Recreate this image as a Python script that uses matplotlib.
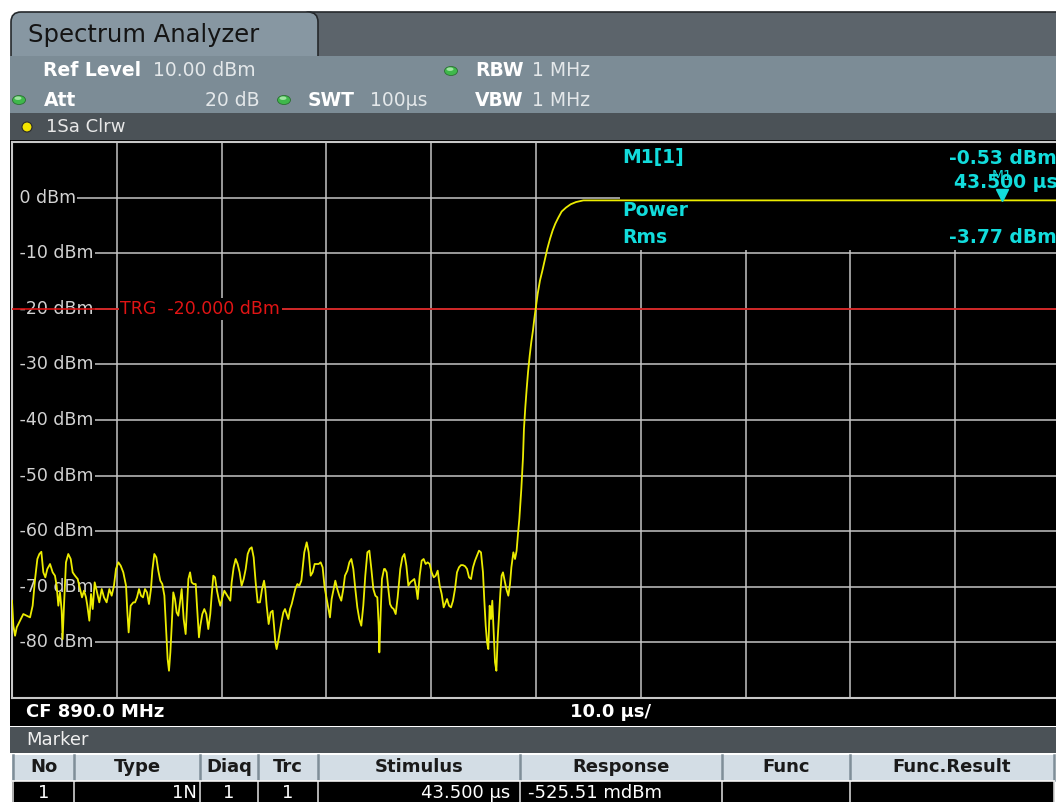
import numpy as np
import matplotlib
matplotlib.use('Agg')
import matplotlib.pyplot as plt
from matplotlib.patches import Rectangle, FancyBboxPatch, Ellipse, Circle
from matplotlib import transforms

plt.rcParams['font.family'] = ['DejaVu Sans']

# ---- values ----
# zero span trace: time in µs, level in dBm
trace_t = [
    -51.00, -50.87, -50.71, -50.55, -50.24, -49.92, -49.60, -49.28, -49.03, -48.80,
    -48.58, -48.39, -48.20, -48.01, -47.82, -47.63, -47.37, -47.12, -46.90, -46.74,
    -46.58, -46.42, -46.26, -46.17, -46.04, -45.85, -45.63, -45.40, -45.21, -44.99,
    -44.73, -44.51, -44.32, -44.13, -43.94, -43.81, -43.62, -43.46, -43.30, -43.11,
    -42.92, -42.67, -42.44, -42.22, -41.97, -41.71, -41.49, -41.27, -41.08, -40.85,
    -40.63, -40.38, -40.12, -40.00, -39.87, -39.68, -39.42,
    -39.26, -39.07, -38.88, -38.69, -38.50, -38.31, -38.12, -37.93, -37.74, -37.61,
    -37.42, -37.23, -37.04, -36.85, -36.66, -36.46, -36.30, -36.15, -36.02, -35.89,
    -35.76, -35.61, -35.45, -35.29, -35.13, -34.97, -34.81, -34.62, -34.43, -34.30,
    -34.17, -34.01, -33.86, -33.67, -33.47, -33.35, -33.16, -33.03, -32.84, -32.65,
    -32.46, -32.27, -32.08, -31.95, -31.79, -31.63, -31.44, -31.25, -31.12, -30.93,
    -30.74, -30.55, -30.36, -30.17, -30.04, -29.85, -29.66, -29.47, -29.28, -29.09,
    -28.89, -28.70, -28.51, -28.32, -28.13, -27.94, -27.75, -27.56,
    -27.34, -27.14, -26.95, -26.83, -26.70, -26.51, -26.32, -26.13, -26.00, -25.87,
    -25.75, -25.59, -25.43, -25.27, -25.11, -24.95, -24.79, -24.63, -24.47, -24.31,
    -24.16, -23.97, -23.77, -23.58, -23.39, -23.26, -23.11, -22.88, -22.69, -22.50,
    -22.31, -22.12, -21.93, -21.74, -21.55, -21.36, -21.17, -20.97, -20.82, -20.66,
    -20.50, -20.34, -20.15, -19.96, -19.77, -19.58, -19.39, -19.23, -19.00, -18.81,
    -18.62, -18.43, -18.24, -18.05, -17.86, -17.67, -17.48, -17.29, -17.09, -16.90,
    -16.71, -16.52, -16.33, -16.14, -16.01, -15.95, -15.82, -15.70, -15.50,
    -15.41, -15.25, -15.09, -14.93, -14.77, -14.58, -14.39, -14.20, -14.07, -13.95,
    -13.75, -13.56, -13.37, -13.18, -12.99, -12.80, -12.61, -12.42, -12.29, -12.10,
    -11.91, -11.72, -11.53, -11.34, -11.15, -10.96, -10.76, -10.57, -10.38, -10.19,
    -10.00, -9.81, -9.68, -9.49, -9.30, -9.11, -8.92, -8.73, -8.54, -8.35,
    -8.16, -7.97, -7.77, -7.58, -7.39, -7.20, -7.01, -6.82, -6.63, -6.44,
    -6.25, -6.06, -5.93, -5.80, -5.67, -5.55, -5.42, -5.29, -5.17, -5.04,
    -4.91, -4.78, -4.66, -4.53, -4.40, -4.28, -4.15, -4.02, -3.83, -3.64,
    -3.48, -3.35, -3.16, -3.00, -2.85, -2.72, -2.59, -2.40, -2.24, -2.15,
    -2.02, -1.89, -1.76, -1.60, -1.45, -1.29, -1.16, -1.00, -0.84, -0.62,
    -0.40, -0.14, 0.08, 0.34, 0.59, 0.84, 1.13, 1.45, 1.86, 2.31,
    2.82, 3.52, 49.00,
]
trace_dbm = [
    -72.5, -77.0, -78.8, -77.3, -76.1, -74.9, -75.2, -75.5, -73.4, -68.6,
    -65.0, -64.1, -63.7, -67.4, -68.3, -66.8, -65.9, -67.4, -68.0, -69.8,
    -73.4, -71.0, -74.3, -79.4, -73.4, -65.6, -64.1, -65.0, -67.4, -68.0,
    -68.6, -70.4, -71.9, -70.7, -71.9, -73.4, -76.1, -71.3, -74.0, -69.2,
    -70.7, -72.8, -70.4, -71.9, -72.8, -70.4, -71.6, -69.8, -66.8, -65.6,
    -66.2, -67.4, -69.8, -74.3, -78.2, -73.4, -72.8,
    -72.8, -71.9, -70.4, -71.6, -71.9, -70.4, -71.0, -73.1, -70.4, -67.1,
    -64.1, -64.7, -67.1, -68.9, -69.5, -71.6, -77.3, -83.0, -85.1, -81.8,
    -77.0, -71.0, -72.2, -74.6, -75.2, -72.8, -70.4, -75.8, -78.5, -73.4,
    -68.6, -67.4, -69.2, -69.5, -69.5, -73.4, -79.1, -77.0, -74.9, -74.0,
    -74.9, -77.6, -74.9, -71.6, -68.0, -68.3, -70.7, -72.5, -73.4, -71.9,
    -70.7, -71.3, -71.9, -72.5, -69.2, -66.5, -65.0, -65.9, -67.4, -69.8,
    -68.6, -66.8, -64.1, -63.2, -62.9, -64.7, -69.2, -72.8,
    -72.8, -70.4, -68.9, -70.4, -73.4, -76.7, -74.6, -74.3, -77.0, -80.0,
    -81.2, -79.7, -77.9, -76.1, -74.6, -74.0, -74.9, -75.8, -74.0, -73.1,
    -71.9, -70.4, -69.5, -69.8, -68.9, -66.5, -63.8, -62.0, -63.8, -68.0,
    -67.4, -65.9, -65.9, -65.9, -65.6, -66.5, -70.1, -72.2, -73.7, -75.5,
    -72.2, -70.7, -68.9, -70.4, -71.6, -72.5, -70.4, -68.0, -67.1, -65.6,
    -65.0, -66.8, -70.4, -73.7, -75.8, -77.0, -73.4, -68.0, -63.8, -63.5,
    -66.8, -70.4, -71.6, -71.9, -77.0, -81.8, -74.6, -68.6, -66.8,
    -66.8, -67.4, -70.4, -73.1, -73.7, -74.0, -74.9, -71.9, -69.2, -66.8,
    -64.7, -64.1, -66.2, -69.8, -69.2, -68.9, -68.6, -70.4, -72.2, -68.0,
    -65.3, -65.0, -65.9, -65.6, -65.9, -67.4, -68.3, -68.0, -67.1, -69.8,
    -71.3, -73.7, -73.1, -72.2, -73.4, -73.7, -72.5, -70.4, -67.4, -66.5,
    -66.1, -66.1, -66.3, -66.8, -68.3, -68.6, -66.5, -65.3, -64.4, -63.5,
    -63.8, -67.4, -72.5, -77.0, -80.0, -81.2, -73.4, -75.8, -72.5, -78.2,
    -83.6, -85.1, -79.4, -75.2, -71.0, -68.0, -67.4, -68.6, -70.4, -71.6,
    -69.5, -66.5, -63.8, -65.0, -63.5, -60.5, -57.8, -52.4, -46.7, -41.6,
    -37.7, -34.4, -31.4, -28.4, -26.0, -23.9, -21.8, -19.5, -17.3, -14.9,
    -13.2, -11.0, -9.2, -7.4, -5.9, -4.7, -3.6, -2.5, -1.8, -1.2,
    -0.8, -0.5, -0.5,
]

ref_level = 10.0          # dBm, top of the screen
range_db = 100.0          # 10 dB / div
t_start, t_stop = -51.0, 49.0   # µs, 10 µs / div
trg_level = -20.0
marker_t = 43.5
marker_dbm = -0.53
level_ticks = [0, -10, -20, -30, -40, -50, -60, -70, -80]

table_head = ['No', 'Type', 'Diaq', 'Trc', 'Stimulus', 'Response', 'Func', 'Func.Result']
table_row = ['1', '1N', '1', '1', '43.500 µs', '-525.51 mdBm', '', '']

# ---- layout (screen pixels) ----
W, H = 1056, 802
col_edges = [13, 74, 200, 258, 318, 520, 722, 850, 1054]
CYAN = '#12dcdc'
VAL = '#e4e8ea'

fig = plt.figure(figsize=(W / 100, H / 100), dpi=100)
fig.patch.set_facecolor('white')

bg = fig.add_axes([0, 0, 1, 1], zorder=0)
bg.set_xlim(0, W)
bg.set_ylim(H, 0)
bg.axis('off')


def rect(x0, y0, x1, y1, fc, z=1):
    bg.add_patch(Rectangle((x0, y0), x1 - x0, y1 - y0, fc=fc, ec='none', zorder=z))


def txt(x, y, s, **kw):
    kw.setdefault('va', 'center')
    kw.setdefault('fontsize', 12.5)
    kw.setdefault('color', 'white')
    fig.text(x / W, 1 - y / H, s, **kw)


def green_dot(x, y):
    bg.add_patch(Ellipse((x, y), 13, 9, fc='#3fb84b', ec='#2b6f33', lw=0.6, zorder=3))
    bg.add_patch(Ellipse((x - 1, y - 1.8), 7, 3.5, fc='#9ee3a0', ec='none', zorder=4))


# title tab and header
bg.add_patch(FancyBboxPatch((300, 12), 800, 70, boxstyle='round,pad=0,rounding_size=10',
                            fc='#5c646b', ec='#25292c', lw=1.2, zorder=1))
bg.add_patch(FancyBboxPatch((11, 12), 307, 70, boxstyle='round,pad=0,rounding_size=10',
                            fc='#8797a2', ec='#25292c', lw=1.2, zorder=2))
rect(10, 56, W, 113, '#7c8c96', z=2)
rect(10, 113, W, 140, '#4b5257', z=2)
rect(10, 140, W, 699, 'black', z=2)
rect(10, 699, W, 726, 'black', z=2)
rect(10, 727, W, 753, '#4b5257', z=2)
rect(12, 755, 1054, 780, '#d3dde5', z=2)
rect(12, 781, 1054, H, 'black', z=2)

txt(28, 35, 'Spectrum Analyzer', fontsize=17.5, color='#141414')
txt(43, 71, 'Ref Level', fontweight='bold', fontsize=13.5)
txt(153, 71, '10.00 dBm', color=VAL, fontsize=13.5)
green_dot(451, 71)
txt(475, 71, 'RBW', fontweight='bold', fontsize=13.5)
txt(532, 71, '1 MHz', color=VAL, fontsize=13.5)
green_dot(19, 100)
txt(44, 100, 'Att', fontweight='bold', fontsize=13.5)
txt(260, 100, '20 dB', ha='right', color=VAL, fontsize=13.5)
green_dot(284, 100)
txt(308, 100, 'SWT', fontweight='bold', fontsize=13.5)
txt(370, 100, '100µs', color=VAL, fontsize=13.5)
txt(475, 100, 'VBW', fontweight='bold', fontsize=13.5)
txt(532, 100, '1 MHz', color=VAL, fontsize=13.5)
bg.add_patch(Circle((27, 127), 5, fc='#f3e400', ec='#2a2a2a', lw=0.8, zorder=3))
txt(46, 127, '1Sa Clrw', fontsize=13, color='#e8e8e8')

# bottom bars and marker table
txt(26, 712, 'CF 890.0 MHz', fontweight='bold', fontsize=13)
txt(570, 712, '10.0 µs/', fontweight='bold', fontsize=13)
txt(26, 740, 'Marker', color='#f0f0f0', fontsize=13)
for e in col_edges:
    bg.plot([e, e], [755, 780], color='#7f8e98', lw=1.8, zorder=3)
    bg.plot([e, e], [781, H], color='#d0d0d0', lw=1.2, zorder=3)
bg.plot([12, 1054], [780.5, 780.5], color='#f0f0f0', lw=1.2, zorder=3)
for i, (hd, val) in enumerate(zip(table_head, table_row)):
    c0, c1 = col_edges[i], col_edges[i + 1]
    txt((c0 + c1) / 2, 767, hd, ha='center', fontweight='bold', color='#1a1a1a', fontsize=13)
    if i == 1:
        txt(c1 - 3, 793, val, ha='right', fontsize=13)
    elif i == 4:
        txt(c1 - 10, 793, val, ha='right', fontsize=13)
    elif i == 5:
        txt(c0 + 8, 793, val, ha='left', fontsize=13)
    else:
        txt((c0 + c1) / 2, 793, val, ha='center', fontsize=13)

# ---- diagram ----
px0, px1, py0, py1 = 12, 1060, 142, 698
ax = fig.add_axes([px0 / W, 1 - py1 / H, (px1 - px0) / W, (py1 - py0) / H], zorder=1)
ax.set_facecolor('black')
ax.set_xlim(t_start, t_stop)
ax.set_ylim(ref_level - range_db, ref_level)
ax.set_xticks(np.arange(t_start + 10, t_stop, 10))
ax.set_yticks(level_ticks)
ax.tick_params(length=0, labelbottom=False, labelleft=False)
ax.set_axisbelow(True)
ax.grid(True, color='#c4c4c4', lw=1.1)
for s in ax.spines.values():
    s.set_color('#c8c8c8')
    s.set_linewidth(1.5)

for v in level_ticks:
    ax.text(0.0015, v, f' {v} dBm', transform=ax.get_yaxis_transform(), ha='left', va='center',
            color='#d2d2d2', fontsize=12.5, zorder=2,
            bbox=dict(fc='black', ec='none', pad=1.2))

# marker info area hides the grid
ax.add_patch(Rectangle(((620 - px0) / (px1 - px0), (py1 - 250) / (py1 - py0)), 1, 1,
                       transform=ax.transAxes, fc='black', ec='none', zorder=2))

ax.axhline(trg_level, color='#d81212', lw=1.2, zorder=3)
ax.text(0.1035, trg_level, 'TRG  -20.000 dBm', transform=ax.get_yaxis_transform(),
        ha='left', va='center', color='#e01414', fontsize=12.5, zorder=3.5,
        bbox=dict(fc='black', ec='none', pad=1.2))

ax.plot(trace_t, trace_dbm, color='#ecec00', lw=1.3, zorder=5)

off = transforms.offset_copy(ax.transData, fig=fig, x=0, y=6, units='dots')
ax.plot(marker_t, marker_dbm, marker='v', ms=9, color=CYAN, transform=off, zorder=6,
        clip_on=False)
ax.annotate('M1', (marker_t, marker_dbm), xytext=(0, 25), textcoords='offset pixels',
            ha='center', va='center', color=CYAN, fontsize=10, zorder=6)

txt(622, 158, 'M1[1]', fontweight='bold', fontsize=13.5, color=CYAN)
txt(622, 211, 'Power', fontweight='bold', fontsize=13.5, color=CYAN)
txt(622, 237, 'Rms', fontweight='bold', fontsize=13.5, color=CYAN)
txt(1057, 159, f'{marker_dbm:.2f} dBm', ha='right', fontweight='bold', fontsize=13.5, color=CYAN)
txt(1058, 183, f'{marker_t:.3f} µs', ha='right', fontweight='bold', fontsize=13.5, color=CYAN)
txt(1057, 237, '-3.77 dBm', ha='right', fontweight='bold', fontsize=13.5, color=CYAN)

fig.savefig('out.png', dpi=100)
